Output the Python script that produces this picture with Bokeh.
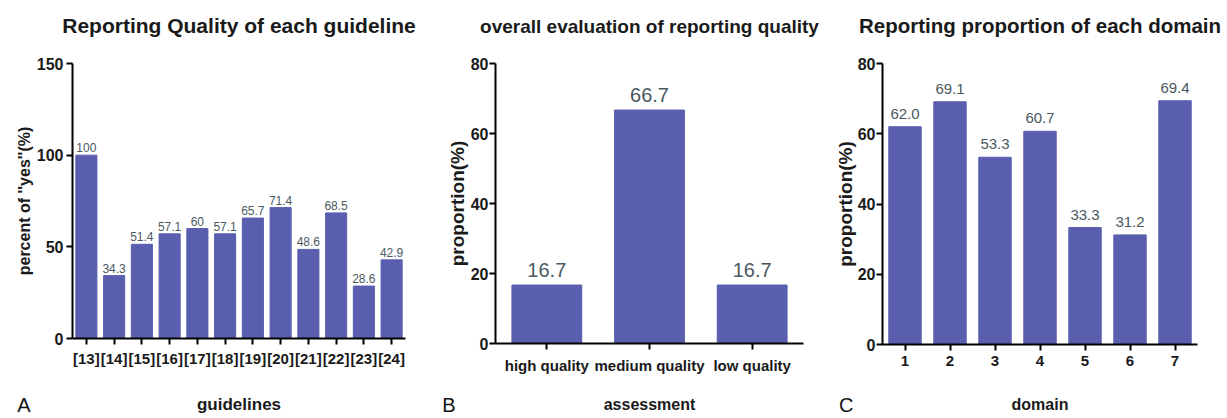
from bokeh.plotting import figure
from bokeh.models import (FactorRange, Range1d, ColumnDataSource, Label, LabelSet, FixedTicker,
                          CustomJSTickFormatter, CategoricalAxis)
from bokeh.core.properties import value
from bokeh.layouts import row, column
from bokeh.embed import file_html
from bokeh.resources import INLINE

# ---- data ----
guidelines = ["[13]", "[14]", "[15]", "[16]", "[17]", "[18]", "[19]", "[20]", "[21]", "[22]", "[23]", "[24]"]
guideline_pct = [100, 34.3, 51.4, 57.1, 60, 57.1, 65.7, 71.4, 48.6, 68.5, 28.6, 42.9]
guideline_lbl = ["100", "34.3", "51.4", "57.1", "60", "57.1", "65.7", "71.4", "48.6", "68.5", "28.6", "42.9"]

assessment = ["high quality", "medium quality", "low quality"]
assessment_pct = [16.7, 66.7, 16.7]

domains = ["1", "2", "3", "4", "5", "6", "7"]
domain_pct = [62.0, 69.1, 53.3, 60.7, 33.3, 31.2, 69.4]

BAR = "#5A5EAE"
LBL = "#4a5960"
TXT = "#1a1a1a"
FONT = "Liberation Sans"
MAIN_H = 378    # chart incl. title
BOT_H = 39      # axis title / panel letter strip


def bottom_strip(width, ml, mr, xlabel, xlabel_size, letter, letter_standoff):
    s = figure(width=width, height=BOT_H, output_backend="svg", toolbar_location=None,
               x_range=Range1d(0, 1), y_range=Range1d(0, 1), x_axis_location=None,
               min_border_left=ml, min_border_right=mr, min_border_top=0, min_border_bottom=0)
    s.title = None
    s.grid.visible = False
    s.outline_line_color = None
    s.background_fill_color = None
    s.border_fill_color = "white"
    ax = s.yaxis[0]
    ax.ticker = FixedTicker(ticks=[1 / 3])
    ax.formatter = CustomJSTickFormatter(code="return %r;" % letter)
    ax.axis_line_color = None
    ax.major_tick_line_color = None
    ax.minor_tick_line_color = None
    ax.major_tick_out = 0
    ax.major_tick_in = 0
    ax.major_label_standoff = letter_standoff
    ax.major_label_text_font = FONT
    ax.major_label_text_font_size = "20px"
    ax.major_label_text_color = "#111"
    s.add_layout(Label(x=0.5, y=13, x_units="data", y_units="screen", text=xlabel,
                       text_align="center", text_baseline="middle", text_font=FONT,
                       text_font_size=xlabel_size, text_font_style="bold", text_color=TXT))
    return s


def make_panel(cats, vals, labels, ymax, yticks, title, ylabel, xlabel, letter,
               width, ml, mr, mb, bar_w, lbl_size, lbl_off, title_size,
               ylabel_size, ylabel_standoff, ytick_standoff, xlabel_size, letter_standoff,
               xtick_standoff):
    p = figure(x_range=FactorRange(*cats, range_padding=0), y_range=Range1d(0, ymax),
               width=width, height=MAIN_H, output_backend="svg", toolbar_location=None,
               min_border_left=ml, min_border_right=mr, min_border_top=63, min_border_bottom=mb)
    p.title = None
    p.background_fill_color = None
    p.border_fill_color = "white"
    p.outline_line_color = None
    p.grid.visible = False
    src = ColumnDataSource(dict(x=cats, top=vals, lbl=labels))
    p.vbar(x="x", top="top", width=bar_w, source=src, fill_color=BAR, line_color=BAR)
    p.add_layout(LabelSet(x="x", y="top", text="lbl", source=src, text_align="center",
                          text_baseline="bottom", y_offset=lbl_off, text_color=LBL,
                          text_font=value(FONT), text_font_size=lbl_size))
    for ax in (p.xaxis[0], p.yaxis[0]):
        ax.axis_line_width = 2
        ax.axis_line_color = "black"
        ax.major_tick_line_width = 2
        ax.major_tick_line_color = "black"
        ax.major_tick_in = 0
        ax.major_tick_out = 6
        ax.minor_tick_line_color = None
        ax.major_label_text_font = FONT
        ax.major_label_text_font_style = "bold"
        ax.major_label_text_color = TXT
        ax.axis_label_text_font = FONT
        ax.axis_label_text_font_style = "bold"
        ax.axis_label_text_color = TXT
    p.yaxis.ticker = FixedTicker(ticks=yticks)
    p.yaxis.major_label_text_font_size = "16px"
    p.yaxis.major_label_standoff = ytick_standoff
    p.yaxis.axis_label = ylabel
    p.yaxis.axis_label_text_font_size = ylabel_size
    p.yaxis.axis_label_standoff = ylabel_standoff
    p.xaxis.major_label_text_font_size = "15px"
    p.xaxis.major_label_standoff = xtick_standoff

    # chart title, carried by a bare axis above the frame (same categorical range)
    tax = CategoricalAxis(axis_label=title, axis_line_color=None,
                          major_tick_out=0, major_tick_in=0, major_tick_line_color=None,
                          minor_tick_line_color=None, major_label_standoff=0,
                          major_label_text_font_size="0px", major_label_text_color=None,
                          axis_label_standoff=27, axis_label_text_font=FONT,
                          axis_label_text_font_size=title_size, axis_label_text_font_style="bold",
                          axis_label_text_color=TXT)
    p.add_layout(tax, "above")

    bot = bottom_strip(width, ml, mr, xlabel, xlabel_size, letter, letter_standoff)
    return column(p, bot, spacing=0)


pa = make_panel(guidelines, guideline_pct, guideline_lbl, 150, [0, 50, 100, 150],
                "Reporting Quality of each guideline", "percent of ''yes''(%)", "guidelines", "A",
                width=418, ml=72, mr=13, mb=40, bar_w=0.76, lbl_size="12px", lbl_off=3,
                title_size="21px", ylabel_size="16px", ylabel_standoff=1,
                ytick_standoff=3, xlabel_size="17px", letter_standoff=42, xtick_standoff=5)
pb = make_panel(assessment, assessment_pct, [f"{v:.1f}" for v in assessment_pct], 80, [0, 20, 40, 60, 80],
                "overall evaluation of reporting quality", "proportion(%)", "assessment", "B",
                width=405, ml=77, mr=20, mb=35, bar_w=0.68, lbl_size="20px", lbl_off=8,
                title_size="19px", ylabel_size="19px", ylabel_standoff=0,
                ytick_standoff=1, xlabel_size="16px", letter_standoff=40, xtick_standoff=7)
pc = make_panel(domains, domain_pct, [f"{v:.1f}" for v in domain_pct], 80, [0, 20, 40, 60, 80],
                "Reporting proportion of each domain", "proportion(%)", "domain", "C",
                width=403, ml=59, mr=29, mb=34, bar_w=0.72, lbl_size="15px", lbl_off=8,
                title_size="20.5px", ylabel_size="19px", ylabel_standoff=-1,
                ytick_standoff=1, xlabel_size="16px", letter_standoff=29, xtick_standoff=5)

layout = row(pa, pb, pc, spacing=0)
open("out.html", "w").write(file_html(layout, INLINE))
